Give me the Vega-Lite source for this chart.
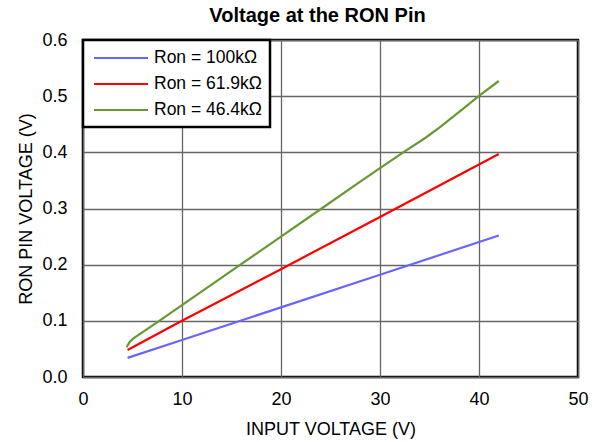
{
  "$schema": "https://vega.github.io/schema/vega-lite/v6.json",
  "autosize": "none",
  "width": 495,
  "height": 337,
  "padding": {"left": 83, "top": 40, "right": 23, "bottom": 65},
  "background": "white",
  "title": {
    "text": "Voltage at the RON Pin",
    "font": "Liberation Sans",
    "fontSize": 20,
    "fontWeight": "bold",
    "color": "black",
    "anchor": "middle",
    "offset": 5,
    "dx": -13
  },
  "config": {
    "font": "Liberation Sans",
    "view": {"stroke": "black", "strokeWidth": 2.5},
    "axis": {
      "domain": false,
      "ticks": false,
      "grid": true,
      "gridColor": "#666666",
      "gridWidth": 1.3,
      "labelFont": "Liberation Sans",
      "labelFontSize": 18,
      "labelColor": "black",
      "titleFont": "Liberation Sans",
      "titleFontSize": 18,
      "titleFontWeight": "normal",
      "titleColor": "black"
    }
  },
  "data": {
    "values": [
      {"vin": 4.5, "v": 0.034, "ron": "Ron = 100kΩ"},
      {"vin": 10, "v": 0.066, "ron": "Ron = 100kΩ"},
      {"vin": 20, "v": 0.124, "ron": "Ron = 100kΩ"},
      {"vin": 30, "v": 0.182, "ron": "Ron = 100kΩ"},
      {"vin": 42, "v": 0.252, "ron": "Ron = 100kΩ"},
      {"vin": 4.5, "v": 0.048, "ron": "Ron = 61.9kΩ"},
      {"vin": 10, "v": 0.100, "ron": "Ron = 61.9kΩ"},
      {"vin": 20, "v": 0.192, "ron": "Ron = 61.9kΩ"},
      {"vin": 30, "v": 0.285, "ron": "Ron = 61.9kΩ"},
      {"vin": 42, "v": 0.397, "ron": "Ron = 61.9kΩ"},
      {"vin": 4.4, "v": 0.053, "ron": "Ron = 46.4kΩ"},
      {"vin": 4.7, "v": 0.062, "ron": "Ron = 46.4kΩ"},
      {"vin": 5.1, "v": 0.069, "ron": "Ron = 46.4kΩ"},
      {"vin": 7.7, "v": 0.100, "ron": "Ron = 46.4kΩ"},
      {"vin": 10, "v": 0.128, "ron": "Ron = 46.4kΩ"},
      {"vin": 15.9, "v": 0.200, "ron": "Ron = 46.4kΩ"},
      {"vin": 20, "v": 0.250, "ron": "Ron = 46.4kΩ"},
      {"vin": 24.1, "v": 0.300, "ron": "Ron = 46.4kΩ"},
      {"vin": 28, "v": 0.348, "ron": "Ron = 46.4kΩ"},
      {"vin": 30, "v": 0.372, "ron": "Ron = 46.4kΩ"},
      {"vin": 32.35, "v": 0.400, "ron": "Ron = 46.4kΩ"},
      {"vin": 34.6, "v": 0.426, "ron": "Ron = 46.4kΩ"},
      {"vin": 36, "v": 0.444, "ron": "Ron = 46.4kΩ"},
      {"vin": 38, "v": 0.472, "ron": "Ron = 46.4kΩ"},
      {"vin": 40.1, "v": 0.502, "ron": "Ron = 46.4kΩ"},
      {"vin": 42, "v": 0.527, "ron": "Ron = 46.4kΩ"}
    ]
  },
  "mark": {"type": "line", "strokeWidth": 2.2},
  "encoding": {
    "x": {
      "field": "vin",
      "type": "quantitative",
      "scale": {"domain": [0, 50], "nice": false},
      "axis": {"values": [0, 10, 20, 30, 40, 50], "title": "INPUT VOLTAGE (V)", "labelPadding": 13, "titlePadding": 12, "labelFlush": false}
    },
    "y": {
      "field": "v",
      "type": "quantitative",
      "scale": {"domain": [0, 0.6], "nice": false},
      "axis": {"values": [0, 0.1, 0.2, 0.3, 0.4, 0.5, 0.6], "format": ".1f", "title": "RON PIN VOLTAGE (V)", "labelPadding": 16, "titlePadding": 6, "labelFlush": false}
    },
    "color": {
      "field": "ron",
      "type": "nominal",
      "scale": {
        "domain": ["Ron = 100kΩ", "Ron = 61.9kΩ", "Ron = 46.4kΩ"],
        "range": ["#6666FF", "#FF0000", "#669933"]
      },
      "legend": {
        "title": null,
        "orient": "none",
        "legendX": 0,
        "legendY": 0,
        "symbolType": "M-1,0H5",
        "symbolSize": 324,
        "symbolStrokeWidth": 2,
        "symbolOffset": 2,
        "labelFont": "Liberation Sans",
        "labelFontSize": 17.5,
        "labelColor": "black",
        "labelOffset": 41,
        "strokeColor": "black",
        "fillColor": "white",
        "padding": 8,
        "rowPadding": 7,
        "encode": {"legend": {"update": {"strokeWidth": {"value": 2.5}}}}
      }
    },
    "order": {"field": "vin", "type": "quantitative"}
  }
}
